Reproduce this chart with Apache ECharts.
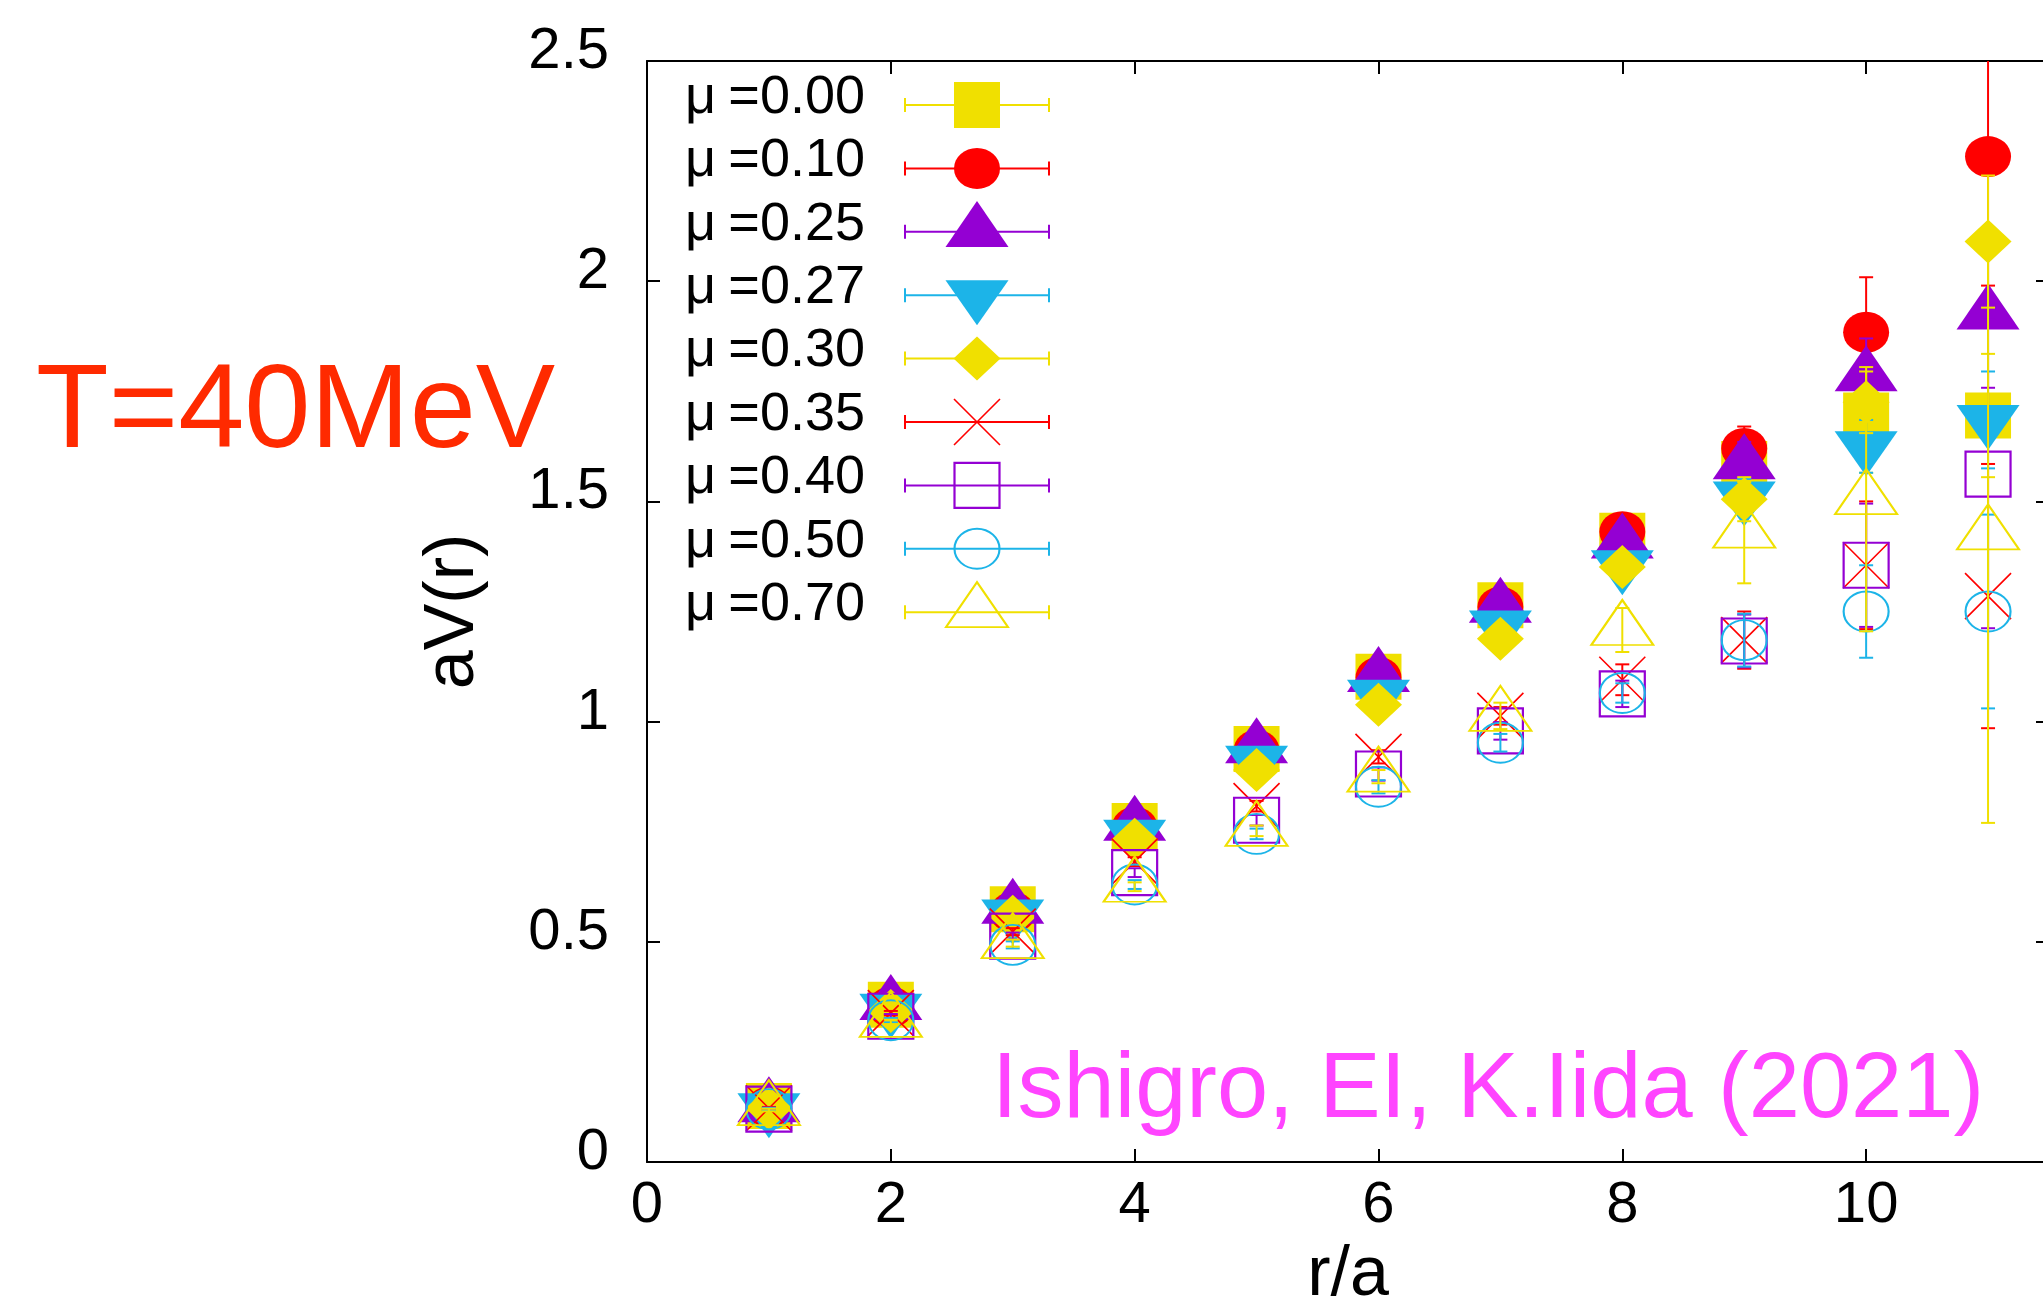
<!DOCTYPE html>
<html>
<head>
<meta charset="utf-8">
<title>aV(r) vs r/a</title>
<script src="https://cdn.jsdelivr.net/npm/echarts@6/dist/echarts.min.js"></script>
<style>
  html, body { margin: 0; padding: 0; background: #ffffff; overflow: hidden; }
  #chart { width: 2043px; height: 1303px; }
</style>
</head>
<body>
<div id="chart"></div>
<script>
// ---- data: static quark potential aV(r) for several chemical potentials ----
const rValues = [1, 2, 3, 4, 5, 6, 7, 8, 9, 10, 11];

const mu000 = [0.127, 0.357, 0.574, 0.763, 0.938, 1.102, 1.264, 1.422, 1.585, 1.695, 1.695];
const mu010 = [0.125, 0.352, 0.567, 0.760, 0.935, 1.100, 1.260, 1.431, 1.620, 1.884, 2.283];
const mu025 = [0.125, 0.357, 0.576, 0.764, 0.940, 1.102, 1.259, 1.405, 1.585, 1.785, 1.925];
const mu027 = [0.122, 0.348, 0.562, 0.743, 0.911, 1.061, 1.218, 1.355, 1.511, 1.625, 1.685];
const mu030 = [0.122, 0.343, 0.557, 0.732, 0.890, 1.038, 1.188, 1.351, 1.505, 1.725, 2.090];
const mu035 = [0.122, 0.338, 0.523, 0.682, 0.808, 0.920, 1.013, 1.095, 1.185, 1.355, 1.285];
const mu040 = [0.120, 0.331, 0.513, 0.657, 0.776, 0.881, 0.979, 1.063, 1.183, 1.355, 1.562];
const mu050 = [0.120, 0.322, 0.493, 0.630, 0.745, 0.852, 0.952, 1.065, 1.185, 1.250, 1.250];
const mu070 = [0.118, 0.318, 0.497, 0.625, 0.752, 0.875, 1.013, 1.208, 1.429, 1.505, 1.425];

// statistical errors (half-width of each error bar)
const err000 = [0.003, 0.004, 0.006, 0.008, 0.010, 0.015, 0.020, 0.030, 0.050, 0.130, 0.140];
const err010 = [0.003, 0.004, 0.006, 0.008, 0.010, 0.015, 0.020, 0.030, 0.050, 0.125, 0.293];
const err025 = [0.003, 0.004, 0.006, 0.008, 0.010, 0.015, 0.020, 0.030, 0.050, 0.085, 0.167];
const err027 = [0.003, 0.004, 0.006, 0.008, 0.010, 0.015, 0.020, 0.025, 0.040, 0.060, 0.110];
const err030 = [0.003, 0.004, 0.006, 0.008, 0.010, 0.015, 0.020, 0.030, 0.050, 0.070, 0.150];
const err035 = [0.003, 0.005, 0.008, 0.010, 0.012, 0.015, 0.020, 0.035, 0.065, 0.145, 0.300];
const err040 = [0.003, 0.005, 0.008, 0.010, 0.012, 0.015, 0.020, 0.030, 0.060, 0.140, 0.350];
const err050 = [0.003, 0.005, 0.008, 0.010, 0.012, 0.015, 0.020, 0.022, 0.060, 0.105, 0.220];
const err070 = [0.003, 0.005, 0.008, 0.010, 0.012, 0.015, 0.030, 0.050, 0.115, 0.300, 0.655];

const muSymbol = '\u03bc';
const muValues = ['0.00', '0.10', '0.25', '0.27', '0.30', '0.35', '0.40', '0.50', '0.70'];

const xTickLabels = ['0', '2', '4', '6', '8', '10'];
const yTickLabels = ['0', '0.5', '1', '1.5', '2', '2.5'];

const axisTitleX = 'r/a';
const axisTitleY = 'aV(r)';
const panelTitle = 'T=40MeV';
const creditText = 'Ishigro, EI, K.Iida (2021)';

// ---- styling ----
const FONT = '"Liberation Sans", Arial, Helvetica, sans-serif';
const YELLOW = '#f0e000';
const RED = '#ff0000';
const PURPLE = '#9400d3';
const CYAN = '#1cb4e8';

const X_MIN = 0, X_MAX = 11.5, X_STEP = 2;
const Y_MIN = 0, Y_MAX = 2.5, Y_STEP = 0.5;
const CAP = 7;

const TRI_UP = 'path://M1,0L2,2L0,2Z';
const TRI_DOWN = 'path://M0,0L2,0L1,2Z';
const CROSS = 'path://M0,0L2,2M2,0L0,2';

// gnuplot-like point types: centred triangles sit on their centroid
const markers = [
  { symbol: 'rect',    size: [46, 46], offset: [0, 0],     color: YELLOW, fill: true },
  { symbol: 'circle',  size: [46, 41], offset: [0, 0],     color: RED,    fill: true },
  { symbol: TRI_UP,    size: [63, 46], offset: [0, -7.7],  color: PURPLE, fill: true },
  { symbol: TRI_DOWN,  size: [63, 45], offset: [0, 7.5],   color: CYAN,   fill: true },
  { symbol: 'diamond', size: [47, 44], offset: [0, 0],     color: YELLOW, fill: true },
  { symbol: CROSS,     size: [46, 46], offset: [0, 0],     color: RED,    fill: false, lw: 1.6 },
  { symbol: 'rect',    size: [45, 45], offset: [0, 0],     color: PURPLE, fill: false, lw: 2.2 },
  { symbol: 'circle',  size: [45, 40], offset: [0, 0],     color: CYAN,   fill: false, lw: 2 },
  { symbol: TRI_UP,    size: [62, 45], offset: [0, -7.5],  color: YELLOW, fill: false, lw: 2 }
];

const seriesValues = [mu000, mu010, mu025, mu027, mu030, mu035, mu040, mu050, mu070];
const seriesErrors = [err000, err010, err025, err027, err030, err035, err040, err050, err070];

function itemStyleOf(m) {
  return m.fill
    ? { color: m.color, borderWidth: 0, opacity: 1 }
    : { color: 'none', borderColor: m.color, borderWidth: m.lw, opacity: 1 };
}

function errorBarRenderer(color) {
  return function (params, api) {
    const r = api.value(0), v = api.value(1), e = api.value(2);
    const hi = v + e, lo = Math.max(v - e, Y_MIN);
    const pHi = api.coord([r, Math.min(hi, Y_MAX)]);
    const pLo = api.coord([r, lo]);
    const st = { stroke: color, lineWidth: 2 };
    const kids = [
      { type: 'line', shape: { x1: pHi[0], y1: pHi[1], x2: pLo[0], y2: pLo[1] }, style: st }
    ];
    if (hi <= Y_MAX) {
      kids.push({ type: 'line', shape: { x1: pHi[0] - CAP, y1: pHi[1], x2: pHi[0] + CAP, y2: pHi[1] }, style: st });
    }
    kids.push({ type: 'line', shape: { x1: pLo[0] - CAP, y1: pLo[1], x2: pLo[0] + CAP, y2: pLo[1] }, style: st });
    return { type: 'group', children: kids };
  };
}

const series = [];

// data: error bars then points, series by series (later series on top)
seriesValues.forEach(function (vals, k) {
  const m = markers[k];
  const errs = seriesErrors[k];
  series.push({
    type: 'custom',
    name: muSymbol + '=' + muValues[k] + ' error',
    xAxisIndex: 0, yAxisIndex: 0,
    z: 10 + 2 * k,
    silent: true,
    encode: { x: 0, y: 1 },
    data: rValues.map(function (r, i) { return [r, vals[i], errs[i]]; }),
    renderItem: errorBarRenderer(m.color)
  });
  series.push({
    type: 'scatter',
    name: muSymbol + '=' + muValues[k],
    xAxisIndex: 0, yAxisIndex: 0,
    z: 11 + 2 * k,
    silent: true,
    symbol: m.symbol,
    symbolSize: m.size,
    symbolOffset: m.offset,
    itemStyle: itemStyleOf(m),
    emphasis: { disabled: true },
    data: rValues.map(function (r, i) { return [r, vals[i]]; })
  });
});

// key: sample line with caps and label, drawn in its own small grid
const keyTextStyle = { fill: '#000000', fontSize: 54, fontFamily: FONT, verticalAlign: 'middle' };
series.push({
  type: 'custom',
  name: 'key lines',
  xAxisIndex: 2, yAxisIndex: 2,
  z: 40,
  silent: true,
  encode: { x: 0, y: 1 },
  data: muValues.map(function (v, k) { return [0, k]; }),
  renderItem: function (params, api) {
    const k = api.value(1);
    const a = api.coord([0, k]);
    const b = api.coord([1, k]);
    const color = markers[k].color;
    const st = { stroke: color, lineWidth: 2 };
    return {
      type: 'group',
      children: [
        { type: 'line', shape: { x1: a[0], y1: a[1], x2: b[0], y2: b[1] }, style: st },
        { type: 'line', shape: { x1: a[0], y1: a[1] - CAP, x2: a[0], y2: a[1] + CAP }, style: st },
        { type: 'line', shape: { x1: b[0], y1: b[1] - CAP, x2: b[0], y2: b[1] + CAP }, style: st },
        {
          type: 'text',
          style: Object.assign({ text: muSymbol, x: a[0] - 220, y: a[1] - 7, align: 'left' }, keyTextStyle)
        },
        {
          type: 'text',
          style: Object.assign({ text: '=' + muValues[k], x: a[0] - 40, y: a[1] - 7, align: 'right' }, keyTextStyle)
        }
      ]
    };
  }
});

markers.forEach(function (m, k) {
  series.push({
    type: 'scatter',
    name: muSymbol + '=' + muValues[k] + ' key',
    xAxisIndex: 2, yAxisIndex: 2,
    z: 41 + k,
    silent: true,
    symbol: m.symbol,
    symbolSize: m.size,
    symbolOffset: m.offset,
    itemStyle: itemStyleOf(m),
    emphasis: { disabled: true },
    data: [[0.5, k]]
  });
});

const borderLine = { show: true, onZero: false, lineStyle: { color: '#000000', width: 2 } };
const innerTicks = { show: true, inside: true, length: 13, lineStyle: { color: '#000000', width: 2 } };

function xLabel(v) {
  const i = Math.round(v / X_STEP);
  return (Math.abs(v - i * X_STEP) < 1e-9 && i < xTickLabels.length) ? xTickLabels[i] : '';
}
function yLabel(v) {
  const i = Math.round(v / Y_STEP);
  return (Math.abs(v - i * Y_STEP) < 1e-9 && i < yTickLabels.length) ? yTickLabels[i] : '';
}

const option = {
  animation: false,
  backgroundColor: '#ffffff',
  grid: [
    { left: 647, top: 61, width: 1402, height: 1101, containLabel: false, outerBoundsMode: 'none' },
    { left: 905, top: 105, width: 144, height: 507.2, containLabel: false, outerBoundsMode: 'none' }
  ],
  xAxis: [
    {
      type: 'value', gridIndex: 0, position: 'bottom',
      min: X_MIN, max: X_MAX, interval: X_STEP,
      axisLine: borderLine, axisTick: innerTicks, splitLine: { show: false },
      axisLabel: {
        show: true, margin: 15, color: '#000000', fontSize: 58, fontFamily: FONT,
        showMaxLabel: false, formatter: xLabel
      },
      name: axisTitleX, nameLocation: 'middle', nameGap: 79,
      nameTextStyle: { color: '#000000', fontSize: 70, fontFamily: FONT }
    },
    {
      type: 'value', gridIndex: 0, position: 'top',
      min: X_MIN, max: X_MAX, interval: X_STEP,
      axisLine: borderLine, axisTick: innerTicks, splitLine: { show: false },
      axisLabel: { show: false }
    },
    { type: 'value', gridIndex: 1, min: 0, max: 1, show: false }
  ],
  yAxis: [
    {
      type: 'value', gridIndex: 0, position: 'left',
      min: Y_MIN, max: Y_MAX, interval: Y_STEP,
      axisLine: borderLine, axisTick: innerTicks, splitLine: { show: false },
      axisLabel: {
        show: true, margin: 38, color: '#000000', fontSize: 58, fontFamily: FONT,
        verticalAlign: 'bottom', lineHeight: 18, formatter: yLabel
      },
      name: axisTitleY, nameLocation: 'middle', nameGap: 158,
      nameTextStyle: { color: '#000000', fontSize: 70, fontFamily: FONT }
    },
    {
      type: 'value', gridIndex: 0, position: 'right',
      min: Y_MIN, max: Y_MAX, interval: Y_STEP,
      axisLine: borderLine, axisTick: innerTicks, splitLine: { show: false },
      axisLabel: { show: false }
    },
    { type: 'value', gridIndex: 1, min: 0, max: 8, inverse: true, show: false }
  ],
  graphic: [
    {
      type: 'text', x: 36, y: 414, silent: true,
      style: {
        text: panelTitle, fill: '#ff2a00', fontSize: 119, fontFamily: FONT,
        align: 'left', verticalAlign: 'middle'
      }
    },
    {
      type: 'text', x: 992, y: 1092, silent: true, z: 100,
      style: {
        text: creditText, fill: '#ff44ff', fontSize: 92, fontFamily: FONT,
        align: 'left', verticalAlign: 'middle'
      }
    }
  ],
  series: series
};

const chart = echarts.init(document.getElementById('chart'), null, { renderer: 'canvas' });
chart.setOption(option);
</script>
</body>
</html>
